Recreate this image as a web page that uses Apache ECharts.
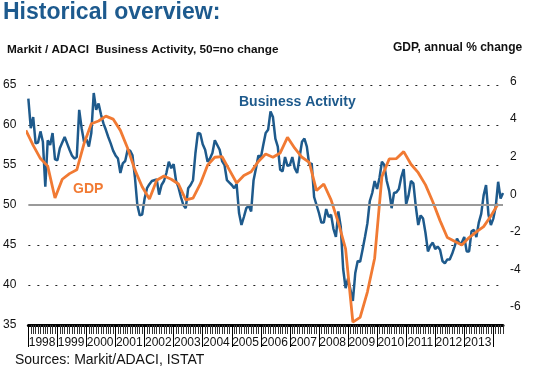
<!DOCTYPE html>
<html>
<head>
<meta charset="utf-8">
<script src="https://cdn.jsdelivr.net/npm/echarts@6/dist/echarts.min.js"></script>
<style>html,body{margin:0;padding:0;background:#fff}#c{width:542px;height:384px}</style>
</head>
<body>
<div id="c"></div>
<script>
// Monthly categories Jan 1998 .. May 2014
var months = [];
for (var y = 1998; y <= 2014; y++) {
  for (var m = 1; m <= 12; m++) {
    if (y === 2014 && m > 5) break;
    months.push(y + '-' + (m < 10 ? '0' + m : m));
  }
}
// Markit/ADACI Business Activity index (monthly, Jan 1998 .. May 2014)
var businessActivity = [
  63.3,59.6,61.0,57.7,57.8,59.2,57.9,52.3,58.1,57.5,59.0,55.7,
  55.6,57.1,57.8,58.5,57.7,56.9,56.2,55.8,56.0,61.9,59.6,57.9,
  58.2,57.3,59.0,64.0,61.9,62.7,61.3,60.2,59.4,58.5,57.7,56.8,
  56.2,55.8,54.0,55.2,55.5,56.9,56.8,56.2,53.5,50.0,48.7,48.8,
  50.8,52.1,52.6,53.0,53.1,53.2,51.3,52.5,53.0,54.0,55.4,54.6,
  55.1,53.0,52.2,51.0,50.0,49.6,52.1,52.5,53.1,56.5,59.0,58.9,
  57.6,56.9,55.4,55.8,56.5,58.1,57.5,56.9,55.5,55.0,53.1,52.8,
  52.5,52.1,52.6,49.0,47.5,48.5,49.6,49.9,49.2,53.1,54.6,56.2,
  55.9,57.5,59.0,59.4,61.7,61.0,58.3,57.3,54.4,54.2,56.0,54.9,
  55.0,56.0,54.6,54.0,56.0,57.9,58.3,57.3,55.0,55.2,51.0,50.0,
  49.0,47.8,47.8,49.5,48.5,48.8,47.0,46.0,49.2,47.3,42.0,39.6,
  40.8,39.4,38.0,41.5,43.0,42.9,44.4,46.0,47.7,50.5,51.5,53.0,
  52.0,53.4,55.4,55.0,53.0,51.8,49.6,51.5,51.6,52.0,53.5,54.5,
  50.1,51.2,53.0,52.7,49.8,47.5,48.7,48.3,46.5,44.2,44.9,45.3,
  44.5,44.8,44.4,43.0,42.7,43.2,43.2,43.9,44.8,45.8,45.2,45.3,
  46.0,44.2,44.2,46.7,46.9,46.0,47.8,48.9,51.2,52.5,48.8,47.5,
  48.3,49.8,52.9,50.8,51.5
];
// GDP, annual % change, quarterly Q4 1997 .. Q1 2014 (plotted at quarter-end month)
var gdp = [
  3.4,
  2.6,1.9,1.5,-0.2,
  0.8,1.1,1.3,2.7,
  3.75,3.9,4.16,4.0,
  3.4,2.45,1.3,0.4,
  -0.25,0.75,0.97,0.8,
  0.55,-0.3,-0.2,0.55,
  1.55,1.97,2.0,1.3,
  0.6,1.0,1.2,1.75,
  2.14,1.97,2.2,3.03,
  2.45,1.97,1.7,0.2,
  0.55,-0.3,-1.5,-2.9,
  -6.8,-6.55,-5.2,-3.4,
  0.94,1.88,1.9,2.27,
  1.6,1.15,0.5,-0.4,
  -1.4,-2.3,-2.5,-2.7,
  -2.3,-2.0,-1.72,-1.15,
  -0.5
];
var leftTicks = [35,40,45,50,55,60,65];
var leftGrid = [40,45,55,60,65];
var rightTicks = [-6,-4,-2,0,2,4,6];

var BLUE = '#1e5a8c', ORANGE = '#f17a33';
var FONT = 'Liberation Sans, Arial, sans-serif';

var baSeries = businessActivity.map(function(v,i){return [i,v];});
var gdpSeries = gdp.map(function(v,k){return [3*k-1, v];});

var chart = echarts.init(document.getElementById('c'), null, {renderer:'canvas'});
chart.setOption({
  animation:false,
  backgroundColor:'#fff',
  grid:{left:28, right:39, top:81.5, bottom:59},
  xAxis:[
    {type:'value', min:0, max:months.length-1, show:false},
    {type:'category', data:months, boundaryGap:false, position:'bottom',
     axisLine:{show:true, onZero:false, lineStyle:{color:'#000', width:3}},
     axisTick:{show:true, interval:0, length:9, lineStyle:{color:'#333', width:1}},
     axisLabel:{show:false}, splitLine:{show:false}},
    {type:'category', data:months, boundaryGap:false, position:'bottom',
     axisLine:{show:false, onZero:false},
     axisTick:{show:true, interval:function(i){return i%12===0;}, length:22, lineStyle:{color:'#000', width:1}},
     axisLabel:{show:true, interval:function(i){return i%12===0 && i>0;},
       formatter:function(v){return String(parseInt(v.slice(0,4),10)-1);},
       align:'right', padding:[0,2,0,0], margin:12, fontSize:12, color:'#111', fontFamily:FONT},
     splitLine:{show:false}}
  ],
  yAxis:[
    {type:'value', min:35, max:35+(325-81.5)/8, position:'left',
     axisLine:{show:false, onZero:false}, axisTick:{show:false, customValues:leftGrid},
     axisLabel:{customValues:leftTicks, margin:12, fontSize:12, color:'#111', fontFamily:FONT},
     splitLine:{show:true, lineStyle:{color:'#222', width:1, type:[2,7]}}},
    {type:'value', min:-6.952, max:6, position:'right',
     axisLine:{show:false, onZero:false}, axisTick:{show:false},
     axisLabel:{customValues:rightTicks, margin:7, fontSize:12, color:'#111', fontFamily:FONT},
     splitLine:{show:false}}
  ],
  series:[
    {type:'line', name:'ref50', xAxisIndex:0, yAxisIndex:0, data:[], z:1, silent:true,
     markLine:{silent:true, symbol:['none','none'], label:{show:false},
       lineStyle:{color:'#9a9a9a', width:2, type:'solid'}, data:[{yAxis:50}]}},
    {type:'line', name:'Business Activity', xAxisIndex:0, yAxisIndex:0, data:baSeries,
     showSymbol:false, symbol:'none', lineStyle:{color:BLUE, width:2.5}, z:3},
    {type:'line', name:'GDP', xAxisIndex:0, yAxisIndex:1, data:gdpSeries, clip:true,
     showSymbol:false, symbol:'none', lineStyle:{color:ORANGE, width:2.8}, z:4}
  ],
  graphic:[
    {type:'text', left:3, top:1, style:{text:'Historical overview:', font:'bold 23px '+FONT, fill:'#1d5a8e'}},
    {type:'text', left:7, top:44, style:{text:'Markit / ADACI  Business Activity, 50=no change', font:'bold 11.8px '+FONT, fill:'#111'}},
    {type:'text', left:393, top:42, style:{text:'GDP, annual % change', font:'bold 12px '+FONT, fill:'#111'}},
    {type:'text', left:239, top:95, style:{text:'Business Activity', font:'bold 14px '+FONT, fill:BLUE}},
    {type:'text', left:73, top:182, style:{text:'GDP', font:'bold 14px '+FONT, fill:ORANGE}},
    {type:'text', left:15, top:353, style:{text:'Sources: Markit/ADACI, ISTAT', font:'14px '+FONT, fill:'#111'}}
  ]
});
</script>
</body>
</html>
